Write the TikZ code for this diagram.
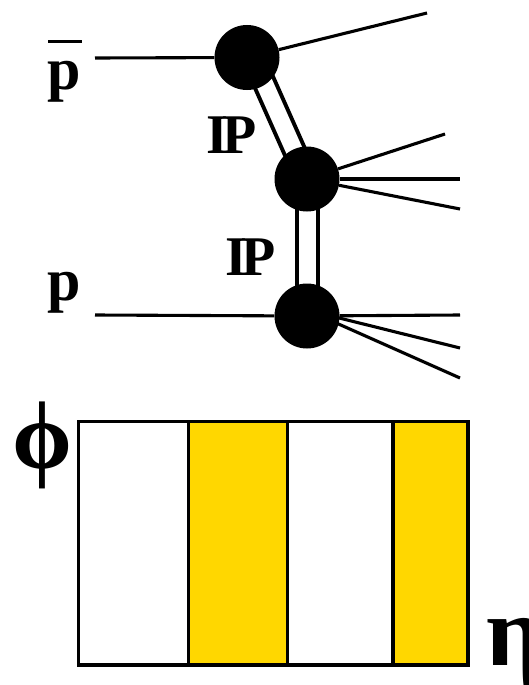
\documentclass[tikz,border=0pt]{standalone}
\usepackage{fontspec}
\setmainfont{Liberation Serif}
\usetikzlibrary{backgrounds}
\definecolor{band}{RGB}{255,215,0}
\begin{document}
\begin{tikzpicture}[x=1pt,y=-1pt,
  blob/.style={circle,fill=black,inner sep=0pt,minimum size=65pt},
  leg/.style={line width=3.1pt},
  pomeron/.style={line width=4pt,double=white,double distance=17pt},
  plab/.style={inner sep=0pt,font=\fontsize{60}{60}\selectfont\bfseries},
  iplab/.style={inner sep=0pt,font=\fontsize{56}{56}\selectfont\bfseries},
  greek/.style={inner sep=0pt,font=\fontsize{#1}{#1}\selectfont\bfseries},
  cell/.style={draw=black,line width=3.3pt}
]
\useasboundingbox (0,0) rectangle (529,685);

% interaction vertices
\node[blob] (b1) at (247,57.5) {};
\node[blob] (b2) at (307,179) {};
\node[blob] (b3) at (307,316) {};

% pomeron exchanges, kept behind the vertices
\begin{scope}[on background layer]
  \draw[pomeron] ([xshift=6pt]b1.center) -- (b2.center);
  \draw[pomeron] ([xshift=0.5pt]b2.center) -- ([xshift=0.5pt]b3.center);
\end{scope}

% incoming beams
\coordinate (pbarin) at (95,58);
\coordinate (pin) at (95,315);
\coordinate (pout) at (460,315);
\draw[leg] (pbarin) -- (b1);
\draw[leg] (pin) -- (b3) -- (pout);

% outgoing particles
\coordinate (o11) at (427,13);
\coordinate (o21) at (445,134);
\coordinate (o22) at (460,179);
\coordinate (o23) at (460,209);
\coordinate (f3) at (307,310);
\coordinate (o32) at (460,348);
\coordinate (o33) at (460,378);
\draw[leg] (b1) -- (o11);
\draw[leg] (b2) -- (o21);
\draw[leg] (b2) -- (o22);
\draw[leg] (b2) -- (o23);
\draw[leg] (f3) -- (o32);
\draw[leg] (f3) -- (o33);

% labels
\node[plab,anchor=base west] (pbar) at (47,89) {\rlap{\hspace{1pt}\rule[46pt]{34pt}{3pt}}p};
\node[plab,anchor=base west] (p) at (47,300) {p};
\node[iplab,anchor=base west] (ip1) at (206,153) {I\kern-0.1em P};
\node[iplab,anchor=base west] (ip2) at (225,275) {I\kern-0.1em P};

% eta-phi plane with the two filled bands
\fill[band] (188.7,421.7) rectangle (287.7,665);
\fill[band] (393,421.7) rectangle (468,665);
\draw[cell] (78.5,421.7) rectangle (468,665);
\draw[cell] (188.7,421.7) -- (188.7,665);
\draw[cell] (287.7,421.7) -- (287.7,665);
\draw[cell] (393,421.7) -- (393,665);

\node[greek=96] (phi) at (42,445) {ϕ};
\node[greek=100,anchor=base west] (eta) at (486,665) {η};
\end{tikzpicture}
\end{document}
